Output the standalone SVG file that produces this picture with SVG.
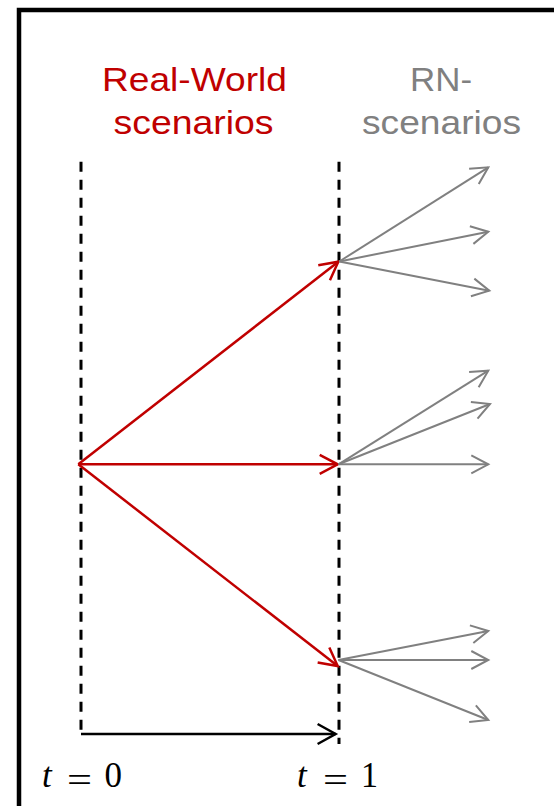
<svg xmlns="http://www.w3.org/2000/svg" width="554" height="806" viewBox="0 0 554 806">
<style>
.red{stroke:#C00000;stroke-width:2.5;fill:none}
.gray{stroke:#808080;stroke-width:2;fill:none}
.dash{stroke:#000;stroke-width:3;stroke-dasharray:10 8;fill:none}
.lbl{font-family:"Liberation Sans",Arial,sans-serif;font-size:34px}
.math{font-family:"Liberation Serif","DejaVu Serif",serif;font-size:35px;fill:#000}
</style>
<defs>
<marker id="ar" markerUnits="userSpaceOnUse" markerWidth="24" markerHeight="24" viewBox="-20 -12 24 24" refX="0" refY="0" orient="auto" overflow="visible">
<path d="M-18,-9.5 L0,0 L-18,9.5" fill="none" stroke="#C00000" stroke-width="2.5"/>
</marker>
<marker id="ag" markerUnits="userSpaceOnUse" markerWidth="24" markerHeight="24" viewBox="-20 -12 24 24" refX="0" refY="0" orient="auto" overflow="visible">
<path d="M-17,-9 L0,0 L-17,9" fill="none" stroke="#808080" stroke-width="2"/>
</marker>
<marker id="ak" markerUnits="userSpaceOnUse" markerWidth="24" markerHeight="24" viewBox="-20 -12 24 24" refX="0" refY="0" orient="auto" overflow="visible">
<path d="M-18,-10 L0,0 L-18,10" fill="none" stroke="#000" stroke-width="2.5"/>
</marker>
</defs>
<rect x="0" y="0" width="554" height="806" fill="#fff"/>
<rect id="frame" x="19" y="10" width="700" height="900" fill="none" stroke="#000" stroke-width="4.5"/>
<g id="label-real" class="lbl" fill="#C00000">
<text x="102" y="91" textLength="185" lengthAdjust="spacingAndGlyphs">Real-World</text>
<text x="113.5" y="134" textLength="160" lengthAdjust="spacingAndGlyphs">scenarios</text>
</g>
<g id="label-rn" class="lbl" fill="#808080">
<text x="410" y="91" textLength="62" lengthAdjust="spacingAndGlyphs">RN-</text>
<text x="362" y="134" textLength="159" lengthAdjust="spacingAndGlyphs">scenarios</text>
</g>
<g id="timelines">
<line class="dash" x1="81" y1="161.7" x2="81" y2="734"/>
<line class="dash" x1="339" y1="161.7" x2="339" y2="744"/>
</g>
<g id="connectors">
<line class="red" x1="78.3" y1="464.3" x2="338.3" y2="261.7" marker-end="url(#ar)"/>
<line class="red" x1="78.3" y1="464.3" x2="337.7" y2="464.3" marker-end="url(#ar)"/>
<line class="red" x1="78.3" y1="464.3" x2="337.7" y2="666" marker-end="url(#ar)"/>
<line class="gray" x1="339.3" y1="261.5" x2="488.3" y2="167.3" marker-end="url(#ag)"/>
<line class="gray" x1="339.3" y1="261.5" x2="488.3" y2="231.7" marker-end="url(#ag)"/>
<line class="gray" x1="339.3" y1="261.5" x2="489.3" y2="290.7" marker-end="url(#ag)"/>
<line class="gray" x1="338.5" y1="464.3" x2="488.3" y2="370.7" marker-end="url(#ag)"/>
<line class="gray" x1="338.5" y1="464.3" x2="490" y2="404" marker-end="url(#ag)"/>
<line class="gray" x1="338.5" y1="464.3" x2="488.3" y2="464.3" marker-end="url(#ag)"/>
<line class="gray" x1="338.5" y1="660" x2="488.3" y2="631" marker-end="url(#ag)"/>
<line class="gray" x1="338.5" y1="660" x2="488.3" y2="660" marker-end="url(#ag)"/>
<line class="gray" x1="338.5" y1="660" x2="488.3" y2="720" marker-end="url(#ag)"/>
<line x1="81" y1="734" x2="335.6" y2="734" stroke="#000" stroke-width="2.5" marker-end="url(#ak)"/>
</g>
<g id="t0" class="math">
<text x="42" y="786.5" font-style="italic">t</text>
<text x="67" y="792" textLength="25" lengthAdjust="spacingAndGlyphs">=</text>
<text x="104.5" y="786.5" textLength="17.5" lengthAdjust="spacingAndGlyphs">0</text>
</g>
<g id="t1" class="math">
<text x="297" y="786.5" font-style="italic">t</text>
<text x="323" y="792" textLength="25" lengthAdjust="spacingAndGlyphs">=</text>
<text x="361" y="786.5" textLength="17" lengthAdjust="spacingAndGlyphs">1</text>
</g>
</svg>
